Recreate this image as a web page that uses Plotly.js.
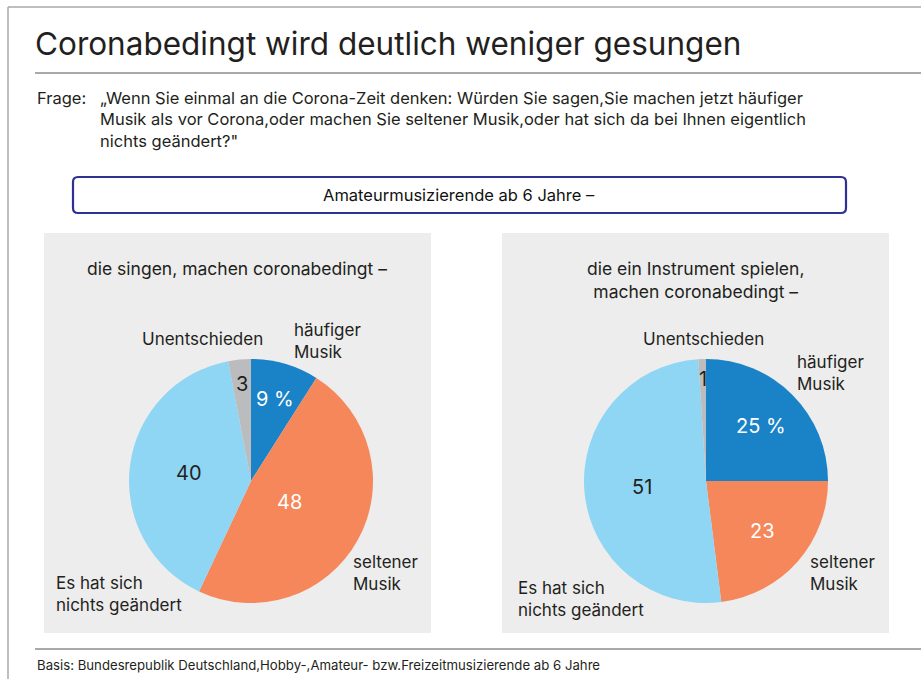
<!DOCTYPE html>
<html>
<head>
<meta charset="utf-8">
<script src="https://cdn.plot.ly/plotly-3.0.1.min.js"></script>
<style>html,body{margin:0;padding:0;background:#fff;}#chart{width:921px;height:679px;}</style>
</head>
<body>
<div id="chart"></div>
<script>
// ---- data ----
const categories = ["häufiger Musik", "seltener Musik", "Es hat sich nichts geändert", "Unentschieden"];
const singenValues = [9, 48, 40, 3];
const instrumentValues = [25, 23, 51, 1];
const singenLabels = ["9 %", "48", "40", "3"];
const instrumentLabels = ["25 %", "23", "51", "1"];
const sliceColors = ["#1a82c6", "#f5875a", "#8ed6f4", "#bbbcbe"];
const valueTextColors = ["#ffffff", "#ffffff", "#231f20", "#231f20"];

const W = 921, H = 679;
const px = x => x / W;
const py = y => 1 - y / H;
const FONT = "Inter, 'Noto Sans', sans-serif";
const DARK = "#231f20";

// pie geometry (pixels)
const pies = [
  {cx: 251, cy: 481, r: 122, values: singenValues, labels: singenLabels, rf: [0.70, 0.36, 0.51, 0.80]},
  {cx: 706, cy: 481, r: 122, values: instrumentValues, labels: instrumentLabels, rf: [0.64, 0.62, 0.53, 0.84]}
];

const traces = pies.map(p => ({
  type: "pie",
  values: p.values,
  labels: categories,
  sort: false,
  direction: "clockwise",
  rotation: 0,
  textinfo: "none",
  hoverinfo: "skip",
  showlegend: false,
  marker: {colors: sliceColors, line: {width: 0}},
  domain: {x: [px(p.cx - p.r), px(p.cx + p.r)], y: [py(p.cy + p.r), py(p.cy - p.r)]}
}));

const annotations = [];
function txt(text, x, y, size, opts) {
  annotations.push(Object.assign({
    text: text, x: px(x), y: py(y), xref: "paper", yref: "paper",
    showarrow: false, xanchor: "left", yanchor: "middle", align: "left",
    font: {family: FONT, size: size, color: DARK}
  }, opts || {}));
}

// value labels computed from data (slice mid-angles)
pies.forEach(p => {
  const total = p.values.reduce((a, b) => a + b, 0);
  let cum = 0;
  p.values.forEach((v, i) => {
    const mid = (cum + v / 2) / total * 2 * Math.PI;
    cum += v;
    const x = p.cx + p.r * p.rf[i] * Math.sin(mid);
    const y = p.cy - p.r * p.rf[i] * Math.cos(mid);
    txt(p.labels[i], x, y, 20, {xanchor: "center", align: "center",
      font: {family: FONT, size: 20, color: valueTextColors[i]}});
  });
});

// titles and texts
txt("Coronabedingt wird deutlich weniger gesungen", 33, 44, 31.5);
txt("Frage:", 35, 98, 16.5);
txt("„Wenn Sie einmal an die Corona-Zeit denken: Würden Sie sagen,Sie machen jetzt häufiger<br>Musik als vor Corona,oder machen Sie seltener Musik,oder hat sich da bei Ihnen eigentlich<br>nichts geändert?\"", 98, 119, 16.5, {yanchor: "middle"});
txt("Amateurmusizierende ab 6 Jahre –", 459, 195, 16.5, {xanchor: "center", align: "center", font: {family: FONT, size: 16.5, color: "#111111"}});
txt("die singen, machen coronabedingt –", 237, 269, 17.5, {xanchor: "center", align: "center"});
txt("die ein Instrument spielen,<br>machen coronabedingt –", 695, 280, 17.5, {xanchor: "center", align: "center"});

// outside category labels
txt("Unentschieden", 202, 339, 17);
annotations[annotations.length - 1].xanchor = "center";
txt("häufiger<br>Musik", 292, 341, 17);
txt("seltener<br>Musik", 351, 573, 17);
txt("Es hat sich<br>nichts geändert", 54, 594, 17);

txt("Unentschieden", 703, 339, 17, {xanchor: "center", align: "center"});
txt("häufiger<br>Musik", 795, 373, 17);
txt("seltener<br>Musik", 808, 573, 17);
txt("Es hat sich<br>nichts geändert", 516, 599, 17);

txt("Basis: Bundesrepublik Deutschland,Hobby-,Amateur- bzw.Freizeitmusizierende ab 6 Jahre", 35, 665, 13.2);

function rect(x0, y0, x1, y1, fill, line) {
  return {type: "rect", xref: "paper", yref: "paper", x0: px(x0), x1: px(x1), y0: py(y1), y1: py(y0),
    fillcolor: fill, line: line || {width: 0}, layer: "below"};
}
function hline(x0, x1, y, color, w) {
  return {type: "line", xref: "paper", yref: "paper", x0: px(x0), x1: px(x1), y0: py(y), y1: py(y),
    line: {color: color, width: w}};
}

// rounded box path
function roundBox(x0, y0, x1, y1, r) {
  const X = v => px(v), Y = v => py(v);
  return {type: "path", xref: "paper", yref: "paper",
    path: `M ${X(x0 + r)} ${Y(y0)} L ${X(x1 - r)} ${Y(y0)} Q ${X(x1)} ${Y(y0)} ${X(x1)} ${Y(y0 + r)} L ${X(x1)} ${Y(y1 - r)} Q ${X(x1)} ${Y(y1)} ${X(x1 - r)} ${Y(y1)} L ${X(x0 + r)} ${Y(y1)} Q ${X(x0)} ${Y(y1)} ${X(x0)} ${Y(y1 - r)} L ${X(x0)} ${Y(y0 + r)} Q ${X(x0)} ${Y(y0)} ${X(x0 + r)} ${Y(y0)} Z`,
    line: {color: "#2e3192", width: 2.2}, fillcolor: "rgba(0,0,0,0)"};
}

const shapes = [
  rect(44, 233, 431, 633, "#ededed"),
  rect(502, 233, 889, 633, "#ededed"),
  hline(8, 921, 7, "#a8a8a8", 1.5),
  {type: "line", xref: "paper", yref: "paper", x0: px(8), x1: px(8), y0: py(7), y1: 0, line: {color: "#a8a8a8", width: 1.5}},
  hline(35, 921, 73, "#8c8c8c", 1.5),
  hline(35, 921, 649, "#8c8c8c", 1.5),
  roundBox(73, 177, 846, 213, 5)
];

const layout = {
  width: W, height: H,
  margin: {l: 0, r: 0, t: 0, b: 0},
  paper_bgcolor: "#ffffff",
  plot_bgcolor: "#ffffff",
  showlegend: false,
  font: {family: FONT, color: DARK},
  annotations: annotations,
  shapes: shapes
};

Plotly.newPlot("chart", traces, layout, {displayModeBar: false, staticPlot: true});
</script>
</body>
</html>
